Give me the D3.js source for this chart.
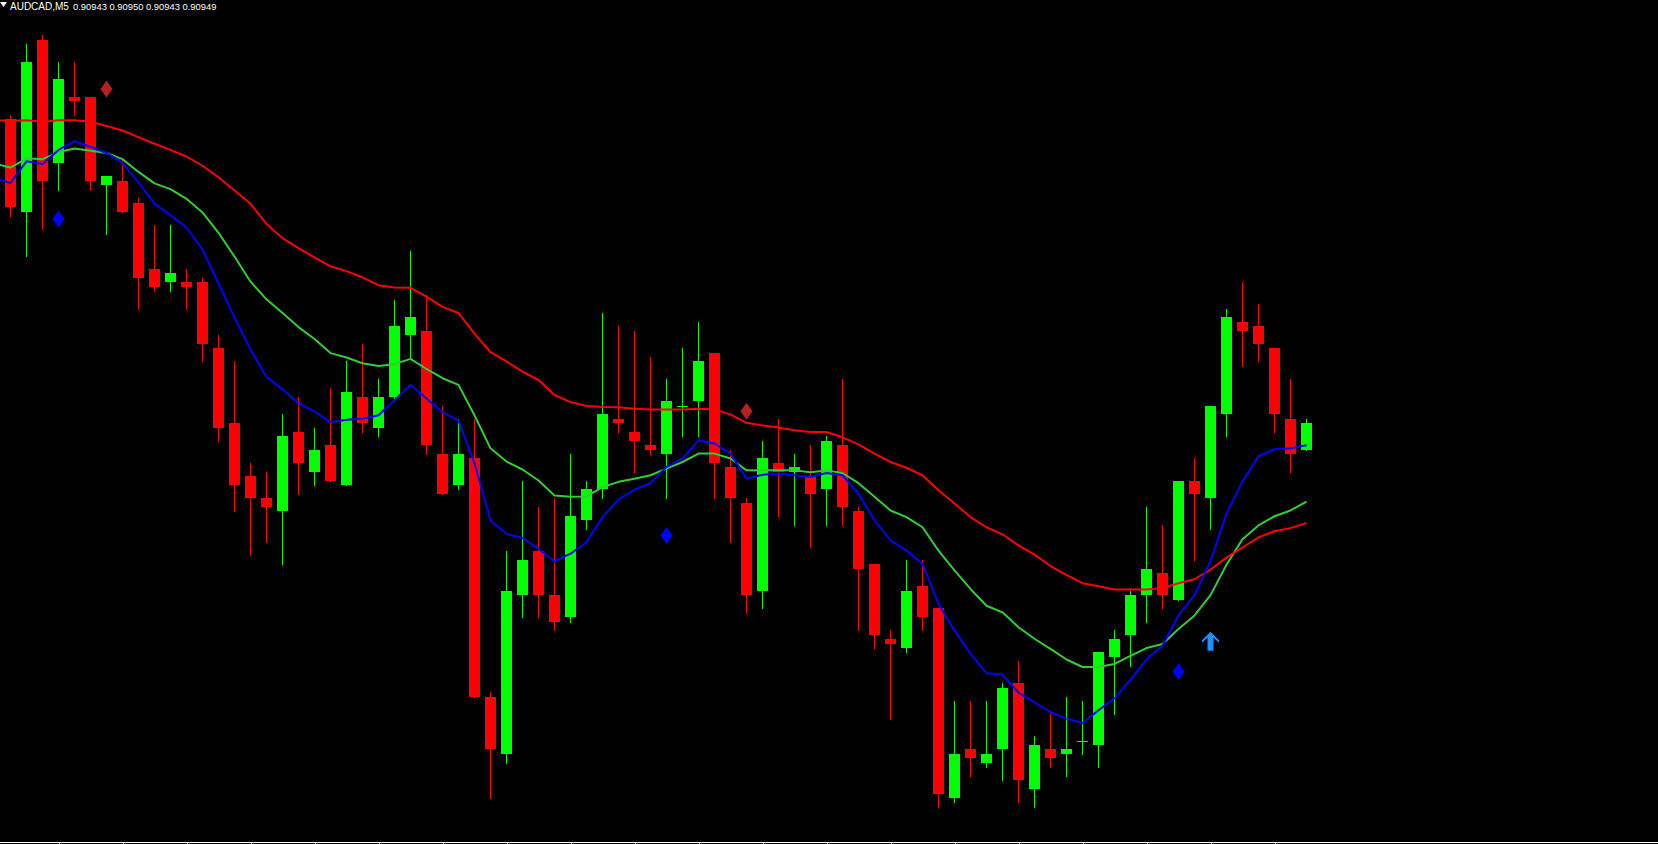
<!DOCTYPE html>
<html><head><meta charset="utf-8">
<script src="https://cdn.jsdelivr.net/npm/d3@7"></script>
<style>html,body{margin:0;padding:0;background:#000;overflow:hidden}svg{display:block}</style>
</head><body><svg id="chart" width="1658" height="844"></svg>
<script>
const symbol = "AUDCAD,M5";
const openP = [0.91018,0.90997,0.91036,0.91008,0.91023,0.91023,0.91003,0.91004,0.90999,0.90984,
0.90981,0.90981,0.90981,0.90966,0.90949,0.90937,0.90932,0.90929,0.90947,0.90938,
0.90944,0.90935,0.90955,0.90948,0.90955,0.90969,0.90970,0.90942,0.90935,0.90941,
0.90887,0.90874,0.90910,0.90920,0.90910,0.90905,0.90927,0.90934,0.90950,0.90947,
0.90944,0.90942,0.90953,0.90954,0.90965,0.90939,0.90931,0.90911,0.90940,0.90938,
0.90937,0.90934,0.90944,0.90929,0.90917,0.90900,0.90898,0.90912,0.90907,0.90864,
0.90875,0.90872,0.90875,0.90890,0.90866,0.90875,0.90874,0.90877,0.90876,0.90896,
0.90901,0.90910,0.90915,0.90909,0.90936,0.90932,0.90951,0.90972,0.90971,0.90966,
0.90950,0.90943];
const highP = [0.91019,0.91035,0.91037,0.91031,0.91031,0.91023,0.91005,0.91009,0.91000,0.90994,
0.90994,0.90984,0.90982,0.90969,0.90963,0.90940,0.90938,0.90951,0.90955,0.90948,
0.90957,0.90963,0.90967,0.90959,0.90977,0.90988,0.90978,0.90953,0.90950,0.90950,
0.90888,0.90920,0.90936,0.90930,0.90932,0.90942,0.90936,0.90974,0.90971,0.90970,
0.90964,0.90959,0.90966,0.90972,0.90965,0.90943,0.90932,0.90945,0.90950,0.90942,
0.90944,0.90946,0.90959,0.90930,0.90917,0.90902,0.90918,0.90918,0.90907,0.90886,
0.90886,0.90886,0.90890,0.90895,0.90878,0.90883,0.90887,0.90886,0.90897,0.90902,
0.90911,0.90930,0.90926,0.90936,0.90941,0.90953,0.90975,0.90981,0.90976,0.90966,
0.90959,0.90950];
const lowP = [0.90996,0.90987,0.90993,0.91002,0.91019,0.91002,0.90992,0.90997,0.90975,0.90979,
0.90979,0.90975,0.90963,0.90945,0.90929,0.90919,0.90922,0.90917,0.90933,0.90935,
0.90936,0.90935,0.90947,0.90946,0.90954,0.90964,0.90942,0.90933,0.90934,0.90887,
0.90864,0.90872,0.90905,0.90905,0.90902,0.90904,0.90925,0.90932,0.90947,0.90938,
0.90942,0.90932,0.90946,0.90946,0.90932,0.90922,0.90906,0.90907,0.90928,0.90926,
0.90921,0.90926,0.90926,0.90902,0.90898,0.90882,0.90897,0.90902,0.90862,0.90863,
0.90869,0.90871,0.90868,0.90863,0.90862,0.90871,0.90869,0.90874,0.90871,0.90883,
0.90894,0.90904,0.90907,0.90909,0.90918,0.90925,0.90946,0.90962,0.90963,0.90947,
0.90938,0.90943];
const closeP = [0.90998,0.91031,0.91004,0.91027,0.91022,0.91004,0.91005,0.90997,0.90982,0.90980,
0.90983,0.90980,0.90967,0.90948,0.90935,0.90932,0.90930,0.90946,0.90940,0.90943,
0.90936,0.90956,0.90949,0.90955,0.90971,0.90973,0.90944,0.90933,0.90942,0.90887,
0.90875,0.90911,0.90918,0.90910,0.90904,0.90928,0.90934,0.90951,0.90949,0.90945,
0.90943,0.90954,0.90953,0.90963,0.90940,0.90932,0.90910,0.90941,0.90938,0.90939,
0.90933,0.90945,0.90930,0.90916,0.90901,0.90899,0.90911,0.90905,0.90865,0.90874,
0.90873,0.90874,0.90889,0.90868,0.90876,0.90873,0.90875,0.90877,0.90897,0.90900,
0.90910,0.90916,0.90910,0.90936,0.90933,0.90953,0.90973,0.90970,0.90967,0.90951,
0.90942,0.90949];
// moving averages, first value belongs to the bar just left of the window (index -1)
const maSlow = [0.910177,0.910176,0.910177,0.910174,0.910177,0.910177,0.910174,0.910164,0.910154,0.910139,0.910124,
0.910110,0.910095,0.910074,0.910048,0.910018,0.909988,0.909942,0.909910,0.909887,0.909866,
0.909846,0.909835,0.909821,0.909803,0.909798,0.909797,0.909777,0.909754,0.909740,0.909693,
0.909651,0.909630,0.909607,0.909588,0.909554,0.909538,0.909529,0.909527,0.909526,0.909523,
0.909521,0.909521,0.909521,0.909523,0.909521,0.909510,0.909491,0.909485,0.909480,0.909474,
0.909470,0.909470,0.909458,0.909442,0.909421,0.909402,0.909389,0.909372,0.909338,0.909308,
0.909277,0.909254,0.909238,0.909213,0.909192,0.909166,0.909146,0.909127,0.909120,0.909113,
0.909113,0.909113,0.909116,0.909127,0.909136,0.909158,0.909185,0.909208,0.909231,0.909245,
0.909252,0.909264];
const maMid = [0.910079,0.910070,0.910091,0.910089,0.910105,0.910113,0.910108,0.910103,0.910089,0.910060,0.910034,
0.910021,0.909999,0.909968,0.909922,0.909868,0.909811,0.909771,0.909740,0.909708,0.909681,
0.909649,0.909639,0.909626,0.909620,0.909624,0.909636,0.909613,0.909592,0.909577,0.909508,
0.909433,0.909403,0.909385,0.909360,0.909326,0.909323,0.909324,0.909345,0.909357,0.909364,
0.909372,0.909387,0.909402,0.909421,0.909421,0.909410,0.909383,0.909383,0.909383,0.909383,
0.909379,0.909383,0.909377,0.909354,0.909323,0.909292,0.909277,0.909254,0.909201,0.909156,
0.909114,0.909076,0.909061,0.909027,0.909001,0.908978,0.908954,0.908937,0.908937,0.908944,
0.908962,0.908980,0.908989,0.909023,0.909054,0.909100,0.909169,0.909227,0.909258,0.909279,
0.909292,0.909312];
const maFast = [0.910047,0.910035,0.910084,0.910078,0.910110,0.910130,0.910117,0.910103,0.910081,0.910036,0.909988,
0.909962,0.909934,0.909884,0.909807,0.909730,0.909657,0.909595,0.909567,0.909535,0.909517,
0.909492,0.909498,0.909500,0.909508,0.909542,0.909577,0.909546,0.909515,0.909496,0.909399,
0.909269,0.909239,0.909230,0.909205,0.909177,0.909194,0.909220,0.909277,0.909317,0.909339,
0.909354,0.909391,0.909410,0.909451,0.909444,0.909421,0.909364,0.909373,0.909376,0.909372,
0.909368,0.909377,0.909372,0.909330,0.909270,0.909224,0.909201,0.909171,0.909080,0.909020,
0.908967,0.908923,0.908920,0.908879,0.908857,0.908835,0.908820,0.908810,0.908839,0.908866,
0.908908,0.908954,0.908985,0.909054,0.909100,0.909177,0.909285,0.909358,0.909415,0.909431,
0.909433,0.909440];
const sellIdx = [6, 46];
const sellPrice = [0.910248, 0.909517];
const buyIdx = [3, 41, 73];
const buyPrice = [0.909953, 0.909235, 0.908926];
const arrowIdx = [75];
const arrowPrice = [0.909017];
const tickIdx = [3,7,11,15,19,23,27,31,35,39,43,47,51,55,59,63,67,71,75,79];

const W = 1658, H = 844;
const svg = d3.select("#chart");
svg.append("rect").attr("width", W).attr("height", H).attr("fill", "#000");

const x = d3.scaleLinear().domain([0, 81]).range([10.5, 1306.5]);
const y = d3.scaleLinear().domain([0.90854, 0.91045]).range([842, 0]);

const bars = openP.map((o, i) => ({i, o, h: highP[i], l: lowP[i], c: closeP[i]}));
const col = d => d.c >= d.o ? "#00ff00" : "#ff0000";

const gC = svg.append("g").attr("shape-rendering", "crispEdges");
gC.selectAll("line.wick").data(bars).join("line").attr("class", "wick")
  .attr("x1", d => x(d.i)).attr("x2", d => x(d.i))
  .attr("y1", d => Math.round(y(d.h))).attr("y2", d => Math.round(y(d.l)) + 1)
  .attr("stroke", col).attr("stroke-width", 1);
gC.selectAll("rect.body").data(bars).join("rect").attr("class", "body")
  .attr("x", d => x(d.i) - 5.5).attr("width", 11)
  .attr("y", d => Math.round(y(Math.max(d.o, d.c))))
  .attr("height", d => Math.max(1, Math.round(y(Math.min(d.o, d.c))) - Math.round(y(Math.max(d.o, d.c)))))
  .attr("fill", col);

const line = d3.line().x((d, k) => x(k - 1)).y(d => y(d));
[[maMid, "#32cd32"], [maSlow, "#ff0000"], [maFast, "#0000ff"]].forEach(([arr, c]) => {
  svg.append("path").datum(arr).attr("d", line).attr("fill", "none")
    .attr("stroke", c).attr("stroke-width", 2).attr("stroke-linejoin", "round");
});

const diamond = "M0,-8.5L6,0L0,8.5L-6,0Z";
svg.selectAll("path.sell").data(sellIdx).join("path").attr("class", "sell")
  .attr("d", diamond).attr("fill", "#b22222")
  .attr("transform", (d, k) => `translate(${x(d)},${y(sellPrice[k])})`);
svg.selectAll("path.buy").data(buyIdx).join("path").attr("class", "buy")
  .attr("d", diamond).attr("fill", "#0000ff")
  .attr("transform", (d, k) => `translate(${x(d)},${y(buyPrice[k])})`);
const arrowShape = "M0,0L8.5,8.5L8.5,11L3,6L3,19L-3,19L-3,6L-8.5,11L-8.5,8.5Z";
svg.selectAll("path.arrow").data(arrowIdx).join("path").attr("class", "arrow")
  .attr("d", arrowShape).attr("fill", "#1e90ff")
  .attr("transform", (d, k) => `translate(${x(d)},${y(arrowPrice[k])})`);

// bottom time axis
svg.append("line").attr("x1", 0).attr("x2", W).attr("y1", 842.5).attr("y2", 842.5)
  .attr("stroke", "#fff").attr("stroke-width", 1).attr("shape-rendering", "crispEdges");
svg.append("g").attr("transform", "translate(0,842.5)")
  .call(d3.axisBottom(x).tickValues(tickIdx).tickSize(3).tickFormat(""))
  .call(g => g.select(".domain").remove())
  .call(g => g.selectAll("line").attr("stroke", "#fff").attr("shape-rendering", "crispEdges"));

// header
svg.append("path").attr("d", "M0,2L7,2L3.5,7Z").attr("fill", "#fff");
const last = bars[bars.length - 1];
svg.append("text").attr("x", 10).attr("y", 9.5).attr("fill", "#fff")
  .attr("font-family", "Liberation Sans, Arial, sans-serif").attr("font-size", 10)
  .text(symbol);
svg.append("text").attr("x", 73).attr("y", 9.5).attr("fill", "#fff")
  .attr("font-family", "Liberation Sans, Arial, sans-serif").attr("font-size", 9.4)
  .text([last.o, last.h, last.l, last.c].map(v => v.toFixed(5)).join(" "));
</script></body></html>
